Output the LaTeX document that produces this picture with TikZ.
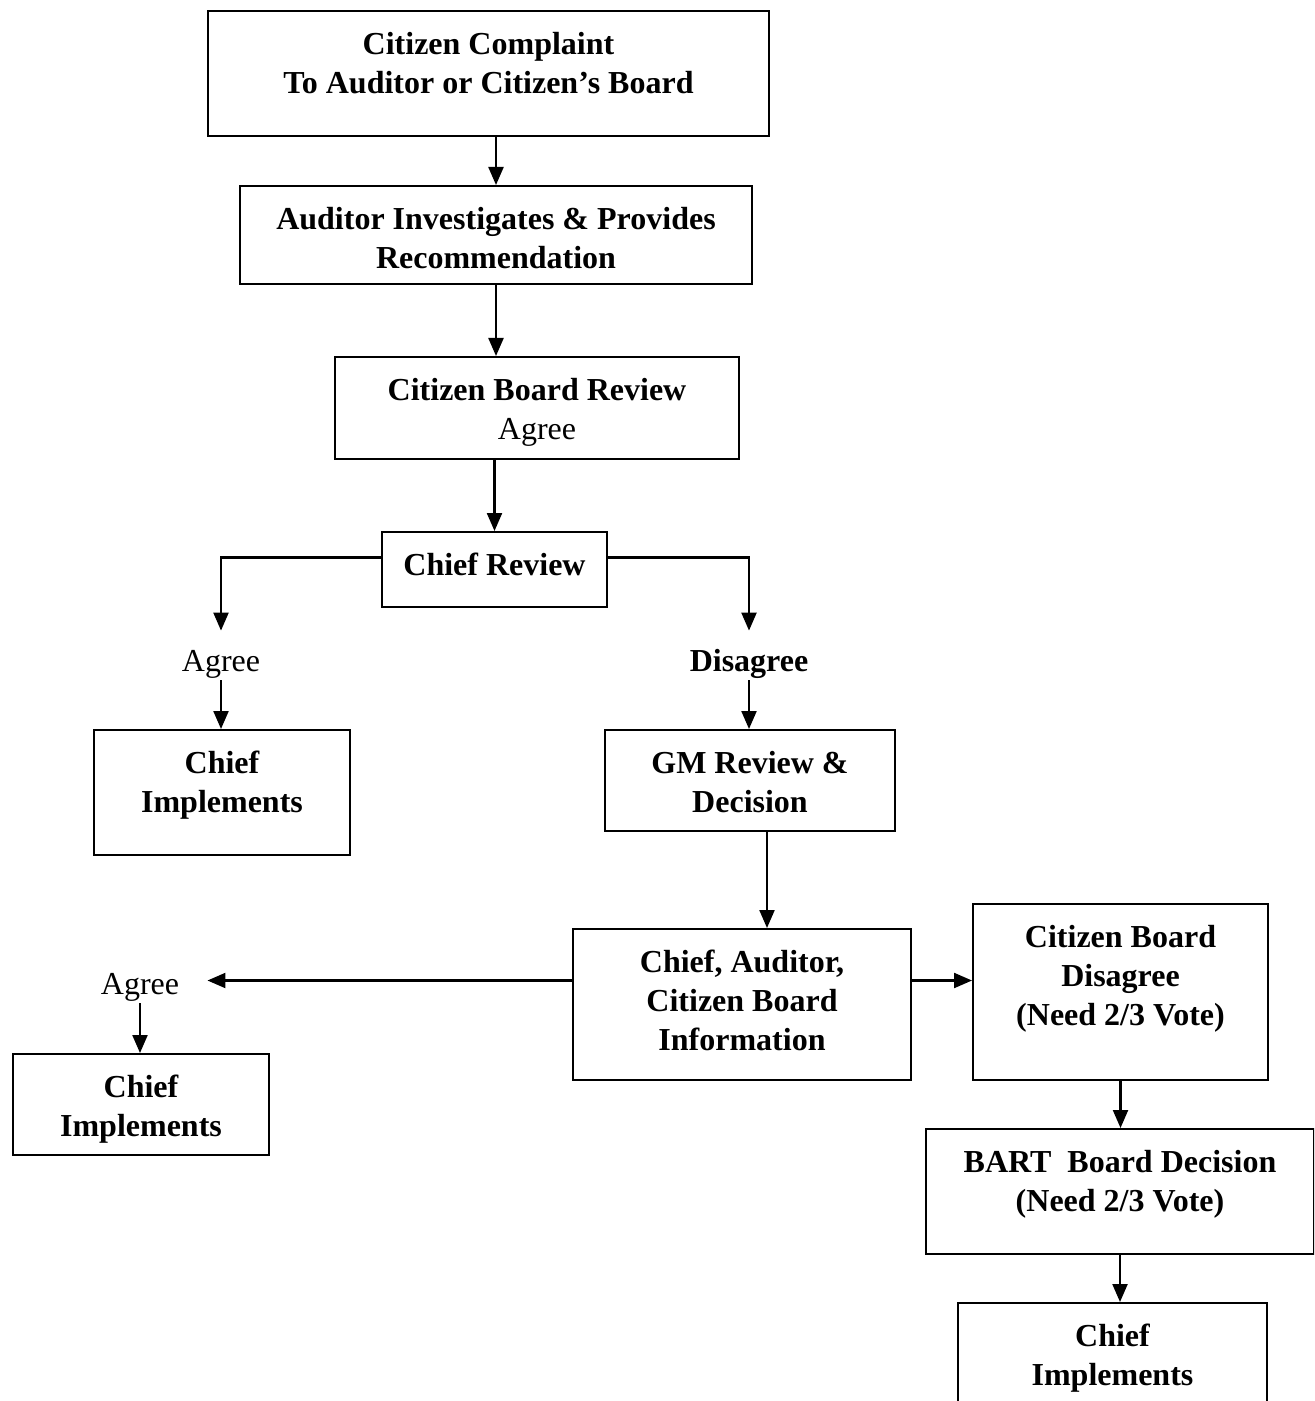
\documentclass[tikz,border=0pt]{standalone}
\usepackage{fontspec}
\setmainfont{Liberation Serif}
\usetikzlibrary{arrows.meta}
\newcommand{\flowbox}[3]{\parbox[c][#2][t]{#1}{\centering\vspace*{8pt}\strut#3\par}}
\tikzset{
  box/.style={draw, line width=1pt, inner sep=0pt, anchor=north west,
    font=\fontsize{16pt}{19.5pt}\selectfont\bfseries},
  lbl/.style={inner xsep=1pt, inner ysep=1pt, text height=19pt, text depth=3.5pt,
    anchor=base, font=\fontsize{16pt}{19.5pt}\selectfont},
  arr/.style={line width=1.1pt, -{Triangle[width=7.5pt,length=9pt]}}
}
\begin{document}
\begin{tikzpicture}[x=0.5pt,y=-0.5pt]
  \clip (0,0) rectangle (1314,1401);
  \fill[white] (0,0) rectangle (1314,1401);
  % Boxes
  \node[box] (complaint) at (207,10) {\flowbox{280.5pt}{62.5pt}{Citizen Complaint\\To Auditor or Citizen’s Board}};
  \node[box] (invest) at (239,185) {\flowbox{256pt}{49pt}{Auditor Investigates \& Provides\\Recommendation}};
  \node[box] (review) at (334,356) {\flowbox{202pt}{51pt}{Citizen Board Review\\\mdseries Agree}};
  \node[box] (chief) at (381,531) {\flowbox{112.5pt}{37.5pt}{Chief Review}};
  \node[box] (implA) at (93,729) {\flowbox{128pt}{62.5pt}{Chief\\Implements}};
  \node[box] (gm) at (604,729) {\flowbox{145pt}{50.5pt}{GM Review \&\\Decision}};
  \node[box] (info) at (572,928) {\flowbox{169pt}{75.5pt}{Chief, Auditor,\\Citizen Board\\Information}};
  \node[box] (cbd) at (972,903) {\flowbox{147.5pt}{88pt}{Citizen Board\\Disagree\\(Need 2/3 Vote)}};
  \node[box] (implB) at (12,1053) {\flowbox{128pt}{50.5pt}{Chief\\Implements}};
  \node[box] (bart) at (925,1128) {\flowbox{194pt}{62.5pt}{BART~ Board Decision\\(Need 2/3 Vote)}};
  \node[box] (implC) at (957,1302) {\flowbox{154.5pt}{62.5pt}{Chief\\Implements}};
  % Labels
  \node[lbl] (agreeA) at (221,671) {Agree};
  \node[lbl, font=\fontsize{16pt}{19.5pt}\selectfont\bfseries] (disagree) at (749,671) {Disagree};
  \node[lbl] (agreeB) at (140,994) {Agree};
  % Arrows
  \draw[arr] (invest.north |- complaint.south) -- (invest.north);
  \draw[arr] (invest.south) -- (invest.south |- review.north);
  \draw[arr] (chief.north |- review.south) -- (chief.north);
  \draw[arr] ([yshift=6pt]chief.west) -| (agreeA.north);
  \draw[arr] ([yshift=6pt]chief.east) -| (disagree.north);
  \draw[arr] (agreeA.south) -- (agreeA.south |- implA.north);
  \draw[arr] (disagree.south) -- (disagree.south |- gm.north);
  \draw[arr] ([xshift=8.5pt]gm.south) -- ([xshift=8.5pt]gm.south |- info.north);
  \draw[arr, shorten >=13pt] ([yshift=12pt]info.west) -- ([yshift=12pt]info.west -| agreeB.east);
  \draw[arr] ([yshift=12pt]info.east) -- ([yshift=12pt]info.east -| cbd.west);
  \draw[arr] (agreeB.south) -- (agreeB.south |- implB.north);
  \draw[arr] (cbd.south) -- (cbd.south |- bart.north);
  \draw[arr] (bart.south) -- (bart.south |- implC.north);
\end{tikzpicture}
\end{document}
